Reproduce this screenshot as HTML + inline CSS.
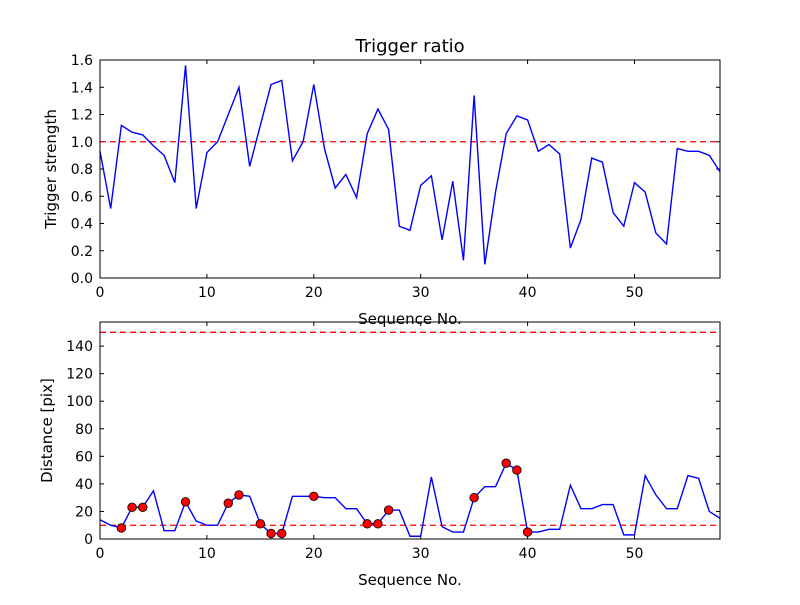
<!DOCTYPE html>
<html><head><meta charset="utf-8"><style>
body{margin:0;background:#fff;}
svg text{font-family:"DejaVu Sans","Liberation Sans",sans-serif;}
</style></head><body>
<svg id="c" width="800" height="600" xmlns="http://www.w3.org/2000/svg"></svg>
<script>
const seqTop = Array.from({length:59},(_,i)=>i);
const triggerStrength = [0.93,0.51,1.12,1.07,1.05,0.97,0.90,0.70,1.56,0.51,0.92,1.00,1.20,1.40,0.82,1.12,1.42,1.45,0.86,1.00,1.42,0.95,0.66,0.76,0.59,1.06,1.24,1.09,0.38,0.35,0.68,0.75,0.28,0.71,0.13,1.34,0.10,0.63,1.06,1.19,1.16,0.93,0.98,0.91,0.22,0.43,0.88,0.85,0.48,0.38,0.70,0.63,0.33,0.25,0.95,0.93,0.93,0.90,0.78];
const distance = [14,10,8,23,23,35,6,6,27,13,10,10,26,32,31,11,4,4,31,31,31,30,30,22,22,11,11,21,21,2,2,45,9,5,5,30,38,38,55,50,5,5,7,7,39,22,22,25,25,3,3,46,32,22,22,46,44,20,15];
const markerIdx = [2,3,4,8,12,13,15,16,17,20,25,26,27,35,38,39,40];
const topYTicks = [0,0.2,0.4,0.6,0.8,1.0,1.2,1.4,1.6];
const botYTicks = [0,20,40,60,80,100,120,140];
const xTicks = [0,10,20,30,40,50];
const topThreshold = [1.0];
const botThresholds = [10,150];

const svg=document.getElementById('c');
const NS='http://www.w3.org/2000/svg';
function mk(t,a,p){const e=document.createElementNS(NS,t);for(const k in a)e.setAttribute(k,a[k]);(p||svg).appendChild(e);return e;}
const X0=100,X1=720;
const xs=v=>X0+(v/58)*(X1-X0);
function panel(name,yTop,yBot,ymax,yTicks,yFmt,ylabel,title){
  const g=mk('g',{});
  
  
  const ys=v=>yBot-(v/ymax)*(yBot-yTop);
  xTicks.forEach(t=>{
    const x=xs(t);
    mk('line',{x1:x,y1:yBot,x2:x,y2:yBot-4,stroke:'#000'},g);
    mk('line',{x1:x,y1:yTop,x2:x,y2:yTop+4,stroke:'#000'},g);
    const tx=mk('text',{x:x,y:yBot+19,'text-anchor':'middle','font-size':'14'},g);tx.textContent=t;
    
    
  });
  yTicks.forEach(t=>{
    const y=ys(t);
    mk('line',{x1:X0,y1:y,x2:X0+4,y2:y,stroke:'#000'},g);
    mk('line',{x1:X1,y1:y,x2:X1-4,y2:y,stroke:'#000'},g);
    const tx=mk('text',{x:X0-7,y:y+5,'text-anchor':'end','font-size':'14'},g);tx.textContent=yFmt(t);
    
    
  });
  const xl=mk('text',{x:(X0+X1)/2,y:yBot+46,'text-anchor':'middle','font-size':'15'},g);xl.textContent='Sequence No.';
  
  
  const yl=mk('text',{x:0,y:0,'text-anchor':'middle','font-size':'15',transform:`translate(${name==='top-panel'?56:52},${(yTop+yBot)/2}) rotate(-90)`},g);yl.textContent=ylabel;
  
  
  if(title){const tt=mk('text',{x:(X0+X1)/2,y:yTop-8,'text-anchor':'middle','font-size':'18'},g);tt.textContent=title;
    
    }
  return {g,ys};
}
const T=panel('top-panel',60,278,1.6,topYTicks,v=>v.toFixed(1),'Trigger strength','Trigger ratio');
topThreshold.forEach(v=>{const l=mk('line',{x1:X0,x2:X1,y1:T.ys(v),y2:T.ys(v),stroke:'#f00','stroke-width':1.3,'stroke-dasharray':'6,4'},T.g);
  
  });
const p1=mk('polyline',{points:triggerStrength.map((v,i)=>xs(seqTop[i])+','+T.ys(v)).join(' '),fill:'none',stroke:'#00f','stroke-width':1.4},T.g);


mk('rect',{x:X0,y:60,width:X1-X0,height:218,fill:'none',stroke:'#000','stroke-width':1},T.g);
const B=panel('bottom-panel',322,539,157.5,botYTicks,v=>String(v),'Distance [pix]',null);
botThresholds.forEach(v=>{const l=mk('line',{x1:X0,x2:X1,y1:B.ys(v),y2:B.ys(v),stroke:'#f00','stroke-width':1.3,'stroke-dasharray':'6,4'},B.g);
  
  });
const p2=mk('polyline',{points:distance.map((v,i)=>xs(seqTop[i])+','+B.ys(v)).join(' '),fill:'none',stroke:'#00f','stroke-width':1.4},B.g);


markerIdx.forEach(i=>{const c=mk('circle',{cx:xs(seqTop[i]),cy:B.ys(distance[i]),r:4.3,fill:'#f00',stroke:'#000','stroke-width':0.8},B.g);
  
  });
mk('rect',{x:X0,y:322,width:X1-X0,height:217,fill:'none',stroke:'#000','stroke-width':1},B.g);
</script>
</body></html>
